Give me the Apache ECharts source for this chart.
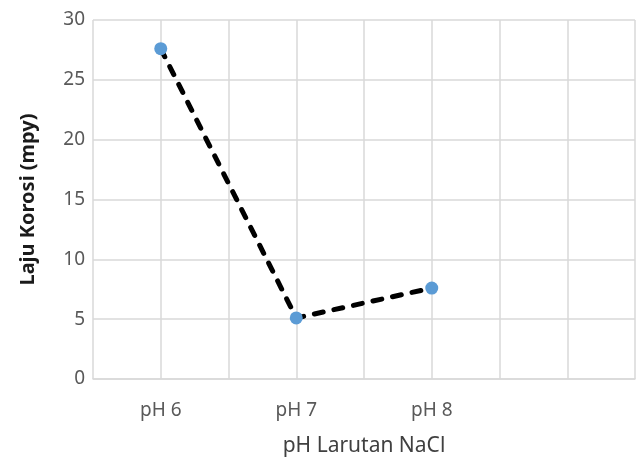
<!DOCTYPE html>
<html>
<head>
<meta charset="utf-8">
<script src="https://cdn.jsdelivr.net/npm/echarts@6/dist/echarts.min.js"></script>
<style>html,body{margin:0;padding:0;background:#fff;}#c{width:640px;height:462px;}</style>
</head>
<body>
<div id="c"></div>
<script>
var categories = ['pH 6', 'pH 7', 'pH 8'];
var values = [27.6, 5.1, 7.6];
var yTicks = [0, 5, 10, 15, 20, 25, 30];
var xTitle = 'pH Larutan NaCl';
var yTitle = 'Laju Korosi (mpy)';

// categories sit on every second gridline of an 8-interval axis
var points = categories.map(function (c, i) { return [2 * i + 1, values[i]]; });
var labelAt = {};
categories.forEach(function (c, i) { labelAt[2 * i + 1] = c; });

var chart = echarts.init(document.getElementById('c'));
chart.setOption({
  animation: false,
  backgroundColor: '#fff',
  grid: { left: 93, right: 5, top: 20, bottom: 82 },
  xAxis: {
    type: 'value', min: 0, max: 8, interval: 1,
    name: xTitle, nameLocation: 'middle', nameGap: 57,
    nameTextStyle: { fontFamily: 'Noto Sans', fontSize: 21, color: '#404040' },
    axisLine: { show: true, lineStyle: { color: '#d9d9d9', width: 1.5 } },
    axisTick: { show: false },
    splitLine: { show: true, lineStyle: { color: '#d9d9d9', width: 1.5 } },
    axisLabel: {
      margin: 22, fontFamily: 'Noto Sans', fontSize: 19, color: '#595959', lineHeight: 19,
      formatter: function (v) { return labelAt[v] || ''; }
    }
  },
  yAxis: {
    type: 'value', min: yTicks[0], max: yTicks[yTicks.length - 1], interval: 5,
    name: yTitle, nameLocation: 'middle', nameGap: 55, nameRotate: 90,
    nameTextStyle: { fontFamily: 'Noto Sans', fontSize: 20, fontWeight: 'bold', color: '#1a1a1a' },
    axisLine: { show: false },
    axisTick: { show: false },
    splitLine: { show: true, lineStyle: { color: '#d9d9d9', width: 1.5 } },
    axisLabel: { margin: 8, fontFamily: 'Noto Sans', fontSize: 19, color: '#595959' }
  },
  series: [{
    type: 'line',
    data: points,
    symbol: 'circle',
    symbolSize: 13,
    itemStyle: { color: '#5B9BD5' },
    lineStyle: { color: '#000', width: 5, type: [9, 11], cap: 'round' }
  }]
});
</script>
</body>
</html>
